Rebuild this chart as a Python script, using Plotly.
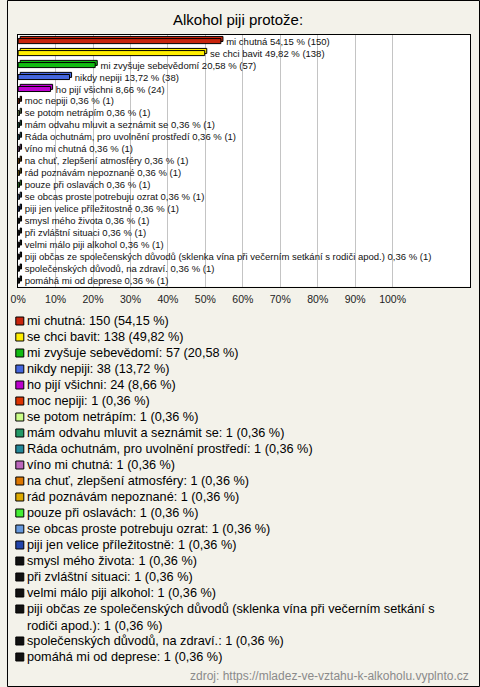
import plotly.graph_objects as go

# ---------------- data ----------------
categories = [
    "mi chutná", "se chci bavit", "mi zvyšuje sebevědomí", "nikdy nepiji", "ho pijí všichni",
    "moc nepiji", "se potom netrápím", "mám odvahu mluvit a seznámit se",
    "Ráda ochutnám, pro uvolnění prostředí", "víno mi chutná", "na chuť, zlepšení atmosféry",
    "rád poznávám nepoznané", "pouze při oslavách", "se obcas proste potrebuju ozrat",
    "piji jen velice příležitostně", "smysl mého života", "při zvláštní situaci",
    "velmi málo piji alkohol",
    "piji občas ze společenských důvodů (sklenka vína při večerním setkání s rodiči apod.)",
    "společenských důvodů, na zdraví.", "pomáhá mi od deprese",
]
counts = [150, 138, 57, 38, 24] + [1] * 16
percents = [54.15, 49.82, 20.58, 13.72, 8.66] + [0.36] * 16
colors = [
    "#C8240C", "#FFEE00", "#11BB11", "#4466DD", "#BB00CC",
    "#DD3300", "#CCFF88", "#229966", "#228899", "#BB66BB",
    "#DD7700", "#DDAA00", "#44EE33", "#6699DD", "#2244AA",
    "#111111", "#111111", "#111111", "#111111", "#111111", "#111111",
]
tick_vals = list(range(0, 101, 10))
tick_labels = [f"{v}%" for v in tick_vals]
title_text = "Alkohol piji protože:"
source_text = "zdroj: https://mladez-ve-vztahu-k-alkoholu.vyplnto.cz"

# legend texts (one wrapped item)
def fmt(p):
    return f"{p:.2f}".replace(".", ",")

legend_texts = []
for c, n, p in zip(categories, counts, percents):
    t = f"{c}: {n} ({fmt(p)} %)"
    if len(t) > 75:
        t = t.replace("setkání s rodiči", "setkání s<br>rodiči")
    legend_texts.append(t)

bar_texts = [f"  {c} {fmt(p)} % ({n})" for c, n, p in zip(categories, counts, percents)]

FONT = "Liberation Sans, Arial, sans-serif"
W, H = 480, 687
BG = "#F3F2EA"

# ---------------- layout geometry ----------------
plot_left, plot_right = 10.7, 470.0
plot_top, plot_bottom = 35.0, 286.5
px_per_pct = 3.8
zero_px = 11.3
x_range = [(plot_left - zero_px) / px_per_pct, (plot_right - zero_px) / px_per_pct]

leg_top, leg_bottom = 313.0, 665.0

# legend line positions
line_pos = []
text_pos = []
cur = 0
for t in legend_texts:
    nl = t.count("<br>") + 1
    line_pos.append(cur)
    text_pos.append(cur + (nl - 1) / 2)
    cur += nl
n_lines = cur

fig = go.Figure()

# 3D back face of bars
fig.add_trace(go.Bar(
    x=percents, y=categories, orientation="h", base=0.55,
    width=0.42, offset=-0.38,
    marker=dict(color=colors, line=dict(color="#000000", width=1)),
    hoverinfo="skip", showlegend=False,
))
# front face
fig.add_trace(go.Bar(
    x=percents, y=categories, orientation="h",
    width=0.42, offset=-0.2,
    marker=dict(color=colors, line=dict(color="#000000", width=1)),
    text=bar_texts, textposition="outside", constraintext="none",
    textfont=dict(family=FONT, size=9.5, color="#111111"),
    cliponaxis=False, showlegend=False,
))

# legend markers drawn on a second, hidden axis pair
fig.add_trace(go.Scatter(
    x=[13] * len(categories), y=line_pos, mode="markers",
    marker=dict(symbol="square", size=8, color=colors, line=dict(color="#000000", width=1)),
    xaxis="x2", yaxis="y2", hoverinfo="skip", showlegend=False, cliponaxis=False,
))

annotations = [
    dict(text=t, xref="x2", yref="y2", x=18, y=yp, xanchor="left", yanchor="middle",
         align="left", showarrow=False,
         font=dict(family=FONT, size=12.7, color="#000000"))
    for t, yp in zip(legend_texts, text_pos)
]
annotations.append(
    dict(text=source_text, xref="paper", yref="paper", x=471 / W, xanchor="right",
         y=1 - 676 / H, yanchor="middle", showarrow=False,
         font=dict(family=FONT, size=12, color="#8A8A8A"))
)

fig.update_layout(
    width=W, height=H,
    margin=dict(l=0, r=0, t=0, b=0),
    paper_bgcolor=BG, plot_bgcolor=BG,
    barmode="overlay",
    font=dict(family=FONT, color="#000000"),
    title=dict(text=title_text, x=0.496, xanchor="center", y=1 - 20 / H, yanchor="middle",
               font=dict(family=FONT, size=15, color="#000000")),
    xaxis=dict(
        domain=[plot_left / W, plot_right / W], range=x_range,
        tickmode="array", tickvals=tick_vals, ticktext=tick_labels,
        showgrid=True, gridcolor="#C4C4C4", gridwidth=1, zeroline=False,
        showline=True, linecolor="#000000", linewidth=1, mirror=True,
        ticks="", ticklabelstandoff=3,
        tickfont=dict(family=FONT, size=10.5, color="#222222"),
        anchor="y", fixedrange=True,
    ),
    yaxis=dict(
        domain=[1 - plot_bottom / H, 1 - plot_top / H],
        type="category", categoryorder="array", categoryarray=categories,
        range=[len(categories) - 0.5, -0.5],
        showticklabels=False, showgrid=False, zeroline=False, ticks="",
        showline=True, linecolor="#000000", linewidth=1, mirror=True,
        anchor="x", fixedrange=True,
    ),
    xaxis2=dict(domain=[0, 1], range=[0, W], visible=False, anchor="y2", fixedrange=True),
    yaxis2=dict(domain=[1 - leg_bottom / H, 1 - leg_top / H],
                range=[n_lines - 0.5, -0.5], visible=False, anchor="x2", fixedrange=True),
    shapes=[
        dict(type="rect", xref="x domain", yref="y domain", x0=0, x1=1, y0=0, y1=1,
             fillcolor="#FFFFFF", line=dict(width=0), layer="below"),
        dict(type="rect", xref="paper", yref="paper", x0=0.5 / W, x1=1 - 0.5 / W,
             y0=0.5 / H, y1=1 - 0.5 / H, line=dict(color="#000000", width=1),
             fillcolor="rgba(0,0,0,0)", layer="above"),
    ],
    annotations=annotations,
)

fig.write_html(
    "out.html",
    config={"displayModeBar": False},
    post_script="document.body.style.margin='0';document.body.style.overflow='hidden';",
)
